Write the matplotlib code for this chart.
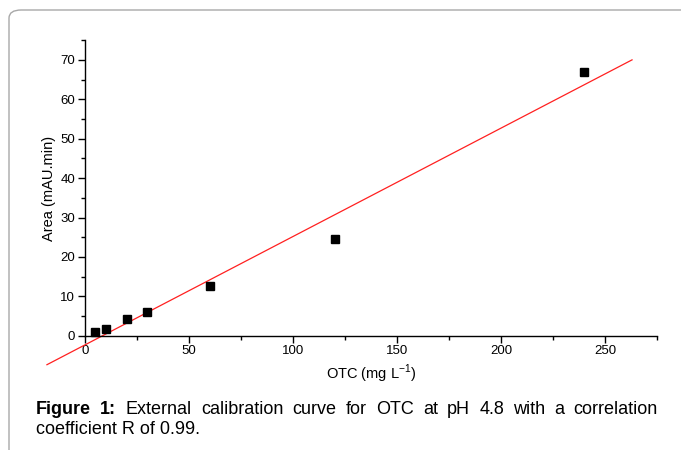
import numpy as np
import matplotlib
matplotlib.use("Agg")
import matplotlib.pyplot as plt
from matplotlib.patches import FancyBboxPatch

plt.rcParams['font.family'] = ['Liberation Sans', 'DejaVu Sans']

# Data
otc = [5, 10, 20, 30, 60, 120, 240]
area = [0.9, 1.8, 4.2, 6.0, 12.7, 24.6, 66.9]
fit_range = [-18.3, 263]
x_ticks = [0, 50, 100, 150, 200, 250]
y_ticks = [0, 10, 20, 30, 40, 50, 60, 70]
caption_line1 = "External calibration curve for OTC at pH 4.8 with a correlation"
caption_line2 = "coefficient R of 0.99."

W, H = 681, 450
fig = plt.figure(figsize=(W / 100, H / 100), dpi=100)

# rounded frame
box = FancyBboxPatch((9 / W, -0.2), 1.2, (H - 10) / H + 0.2,
                     boxstyle="round,pad=0,rounding_size=0.018",
                     transform=fig.transFigure, fill=False,
                     edgecolor="#a8a8a8", linewidth=1.0)
fig.add_artist(box)

ax = fig.add_axes([85 / W, (H - 335.7) / H, (657 - 85) / W, 295.5 / H])
ax.set_xlim(0, 275)
ax.set_ylim(0, 75)
for s in ['top', 'right']:
    ax.spines[s].set_visible(False)
for s in ['left', 'bottom']:
    ax.spines[s].set_linewidth(1.0)

slope, intercept = np.polyfit(otc, area, 1)
xf = np.array(fit_range)
ax.plot(xf, slope * xf + intercept, color='#ff2020', lw=0.9, clip_on=False, zorder=2)
ax.plot(otc, area, 's', color='black', ms=5.2, zorder=3, clip_on=False)

ax.set_xticks(x_ticks)
ax.set_yticks(y_ticks)
ax.set_xticks(np.arange(25, 276, 50), minor=True)
ax.set_yticks(np.arange(5, 76, 10), minor=True)
ax.tick_params(which='major', direction='out', length=5, width=1, labelsize=9.5, pad=2)
ax.tick_params(which='minor', direction='out', length=3, width=1)
ax.set_xlabel("OTC (mg L$^{\\mathregular{-1}}$)", fontsize=10.5, labelpad=4)
ax.set_ylabel("Area (mAU.min)", fontsize=10.5, labelpad=3)

# caption, justified first line
fig.canvas.draw()
r = fig.canvas.get_renderer()
x0, x1 = 36, 658
y1 = 1 - 410 / H
y2 = 1 - 430 / H
fs = 13
words = [("Figure", 'bold'), ("1:", 'bold')] + [(w, 'normal') for w in caption_line1.split()]
texts = []
total = 0
for w, wt in words:
    t = fig.text(0, y1, w, fontsize=fs, fontweight=wt, va='center', ha='left')
    bb = t.get_window_extent(renderer=r)
    texts.append((t, bb.width))
    total += bb.width
gap = (x1 - x0 - total) / (len(words) - 1)
x = x0
for t, wdt in texts:
    t.set_x(x / W)
    x += wdt + gap
fig.text(x0 / W, y2, caption_line2, fontsize=fs, va='center', ha='left')

fig.savefig("out.png", dpi=100)
